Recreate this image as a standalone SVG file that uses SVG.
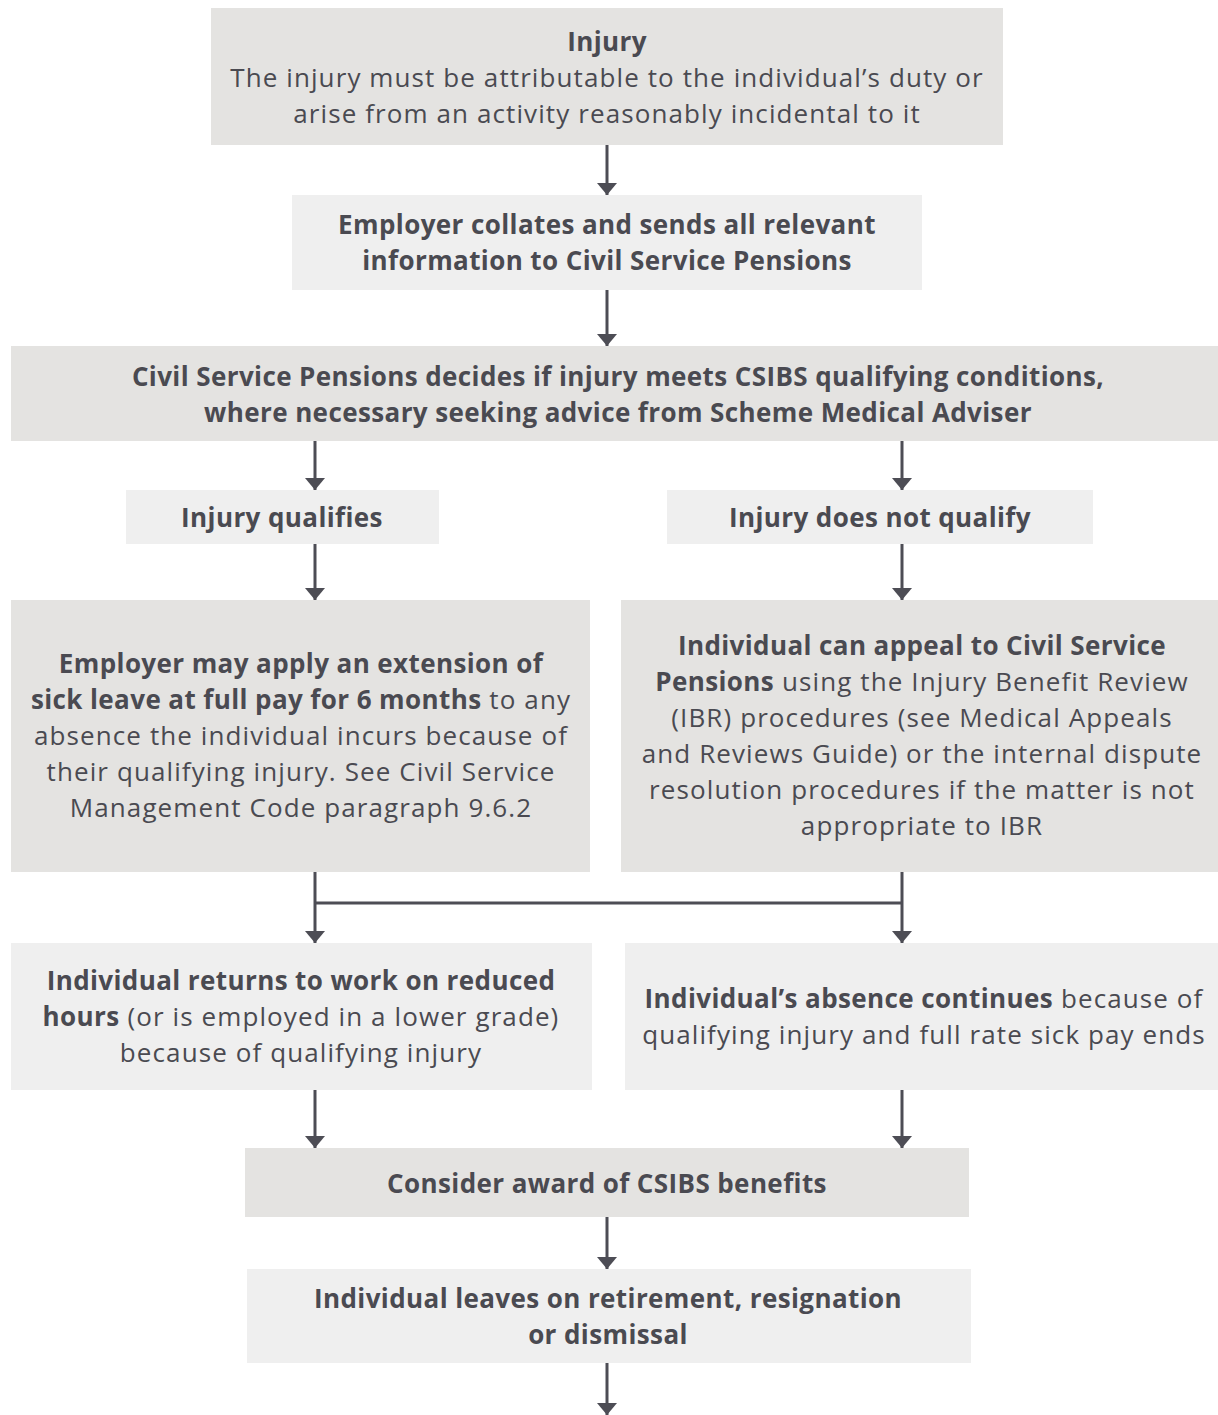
<svg xmlns="http://www.w3.org/2000/svg" width="1218" height="1415" viewBox="0 0 1218 1415">
<style>
.dark{fill:#e4e3e1}
.light{fill:#efefef}
text{font-family:"Open Sans","Liberation Sans",sans-serif;font-size:26px;fill:#4a4a51;text-anchor:middle;letter-spacing:1.1px}
.b{font-weight:700;letter-spacing:0.4px}
.c{stroke:#4d4d55;stroke-width:3;fill:none}
</style>
<defs>
<marker id="ah" markerUnits="userSpaceOnUse" markerWidth="14" markerHeight="22" refX="12" refY="11" orient="auto" viewBox="0 0 14 22">
<path d="M0,1 L12,11 L0,21 Z" fill="#4d4d55"/>
</marker>
</defs>
<rect width="1218" height="1415" fill="#ffffff"/>
<g id="n1"><rect class="dark" x="211" y="8" width="792" height="137"/>
<text x="607" y="51" class="b">Injury</text>
<text x="607" y="87">The injury must be attributable to the individual’s duty or</text>
<text x="607" y="123">arise from an activity reasonably incidental to it</text></g>
<g id="n2"><rect class="light" x="292" y="195" width="630" height="95"/>
<text x="607" y="234" class="b">Employer collates and sends all relevant</text>
<text x="607" y="270" class="b">information to Civil Service Pensions</text></g>
<g id="n3"><rect class="dark" x="11" y="346" width="1207" height="95"/>
<text x="618" y="386" class="b">Civil Service Pensions decides if injury meets CSIBS qualifying conditions,</text>
<text x="618" y="422" class="b">where necessary seeking advice from Scheme Medical Adviser</text></g>
<g id="n4"><rect class="light" x="126" y="490" width="313" height="54"/>
<text x="282" y="527" class="b">Injury qualifies</text></g>
<g id="n5"><rect class="light" x="667" y="490" width="426" height="54"/>
<text x="880" y="527" class="b">Injury does not qualify</text></g>
<g id="n6"><rect class="dark" x="11" y="600" width="579" height="272"/>
<text x="301" y="673" class="b">Employer may apply an extension of</text>
<text x="301" y="709"><tspan class="b">sick leave at full pay for 6 months</tspan> to any</text>
<text x="301" y="745">absence the individual incurs because of</text>
<text x="301" y="781">their qualifying injury. See Civil Service</text>
<text x="301" y="817">Management Code paragraph 9.6.2</text></g>
<g id="n7"><rect class="dark" x="621" y="600" width="597" height="272"/>
<text x="922" y="655" class="b">Individual can appeal to Civil Service</text>
<text x="922" y="691"><tspan class="b">Pensions</tspan> using the Injury Benefit Review</text>
<text x="922" y="727">(IBR) procedures (see Medical Appeals</text>
<text x="922" y="763">and Reviews Guide) or the internal dispute</text>
<text x="922" y="799">resolution procedures if the matter is not</text>
<text x="922" y="835">appropriate to IBR</text></g>
<g id="n8"><rect class="light" x="11" y="943" width="581" height="147"/>
<text x="301" y="990" class="b">Individual returns to work on reduced</text>
<text x="301" y="1026"><tspan class="b">hours</tspan> (or is employed in a lower grade)</text>
<text x="301" y="1062">because of qualifying injury</text></g>
<g id="n9"><rect class="light" x="625" y="943" width="593" height="147"/>
<text x="924" y="1008"><tspan class="b">Individual’s absence continues</tspan> because of</text>
<text x="924" y="1044">qualifying injury and full rate sick pay ends</text></g>
<g id="n10"><rect class="dark" x="245" y="1148" width="724" height="69"/>
<text x="607" y="1193" class="b">Consider award of CSIBS benefits</text></g>
<g id="n11"><rect class="light" x="247" y="1269" width="724" height="94"/>
<text x="608" y="1308" class="b">Individual leaves on retirement, resignation</text>
<text x="608" y="1344" class="b">or dismissal</text></g>
<g id="connectors">
<line class="c" x1="607" y1="145" x2="607" y2="195" marker-end="url(#ah)"/>
<line class="c" x1="607" y1="290" x2="607" y2="346" marker-end="url(#ah)"/>
<line class="c" x1="315" y1="441" x2="315" y2="490" marker-end="url(#ah)"/>
<line class="c" x1="902" y1="441" x2="902" y2="490" marker-end="url(#ah)"/>
<line class="c" x1="315" y1="544" x2="315" y2="600" marker-end="url(#ah)"/>
<line class="c" x1="902" y1="544" x2="902" y2="600" marker-end="url(#ah)"/>
<line class="c" x1="315" y1="872" x2="315" y2="943" marker-end="url(#ah)"/>
<line class="c" x1="902" y1="872" x2="902" y2="943" marker-end="url(#ah)"/>
<line class="c" x1="315" y1="903" x2="902" y2="903"/>
<line class="c" x1="315" y1="1090" x2="315" y2="1148" marker-end="url(#ah)"/>
<line class="c" x1="902" y1="1090" x2="902" y2="1148" marker-end="url(#ah)"/>
<line class="c" x1="607" y1="1217" x2="607" y2="1269" marker-end="url(#ah)"/>
<line class="c" x1="607" y1="1363" x2="607" y2="1415" marker-end="url(#ah)"/>
</g>
</svg>
